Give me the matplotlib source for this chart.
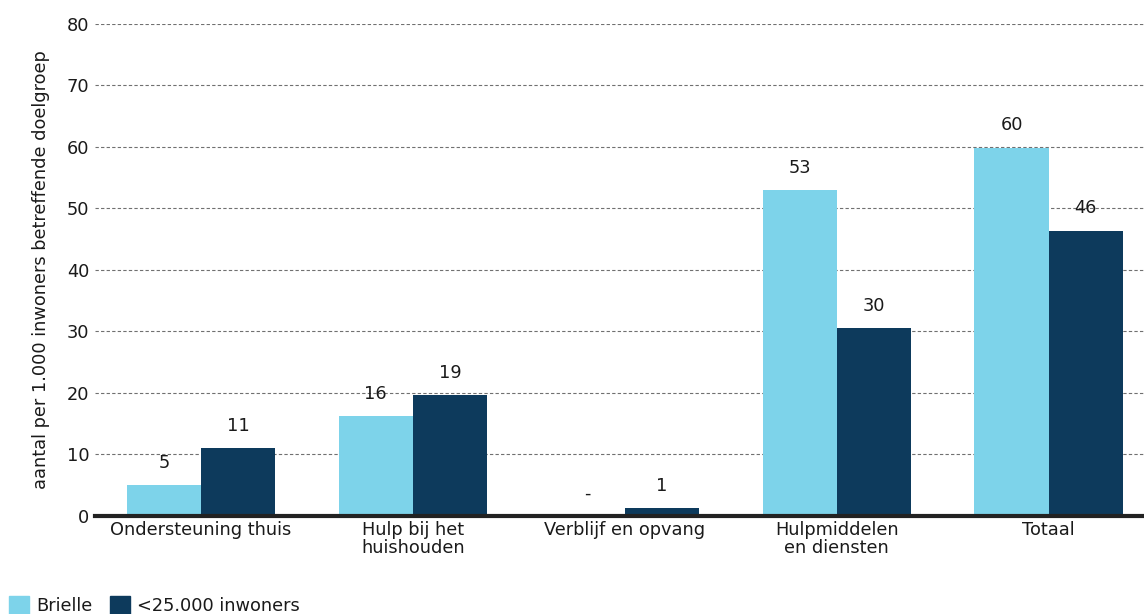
import matplotlib
matplotlib.use('Agg')
import matplotlib.pyplot as plt
import numpy as np
from matplotlib.patches import Patch

plt.rcParams['font.family'] = ['DejaVu Sans']

categories = ['Ondersteuning thuis', 'Hulp bij het\nhuishouden', 'Verblijf en opvang',
              'Hulpmiddelen\nen diensten', 'Totaal']
brielle = [5.0, 16.2, 0.0, 53.0, 59.9]
kleine_gemeenten = [11.0, 19.6, 1.2, 30.5, 46.4]
brielle_labels = ['5', '16', '-', '53', '60']
kleine_labels = ['11', '19', '1', '30', '46']
series_names = ['Brielle', '<25.000 inwoners']
yticks = [0, 10, 20, 30, 40, 50, 60, 70, 80]

licht = '#7dd3ea'
donker = '#0d3a5c'
tekst = '#1a1a1a'
fs = 12.8

fig = plt.figure(figsize=(11.44, 6.14), dpi=100)
ax = fig.add_axes([0.083, 0.16, 0.917, 0.801])

x = np.arange(len(categories))
w = 0.35
b1 = ax.bar(x - w / 2, brielle, w, color=licht, zorder=3)
b2 = ax.bar(x + w / 2, kleine_gemeenten, w, color=donker, zorder=3)

# waardelabels boven de staven ('-' = geen waarde)
for bars, labels in [(b1, brielle_labels), (b2, kleine_labels)]:
    for rect, lab in zip(bars, labels):
        ax.annotate(lab, (rect.get_x() + rect.get_width() / 2, rect.get_height()),
                    xytext=(0, 9.5), textcoords='offset points', ha='center', va='bottom',
                    fontsize=fs, color=tekst, zorder=4)

ax.set_xlim(-0.5, 4.45)
ax.set_ylim(0, 80)
ax.set_yticks(yticks)
ax.set_xticks(x)
ax.set_xticklabels(categories, fontsize=fs, color=tekst, linespacing=1.05)
ax.tick_params(axis='y', length=0, pad=4, labelsize=fs, labelcolor=tekst)
ax.tick_params(axis='x', length=0, pad=3.5)
ax.grid(axis='y', color='#707070', linestyle=(0, (3, 2)), linewidth=0.8, zorder=0)

for s in ['top', 'right', 'left']:
    ax.spines[s].set_visible(False)
ax.spines['bottom'].set_color('#222222')
ax.spines['bottom'].set_linewidth(3)
ax.spines['bottom'].set_zorder(5)

ax.set_ylabel('aantal per 1.000 inwoners betreffende doelgroep', fontsize=fs, color=tekst, labelpad=12)

handles = [Patch(color=licht), Patch(color=donker)]
fig.legend(handles, series_names, loc='lower left', bbox_to_anchor=(0.002, -0.014), ncol=2,
           frameon=False, fontsize=fs, handlelength=1.1, handleheight=1.2,
           handletextpad=0.4, columnspacing=1.0, borderaxespad=0.0, labelcolor=tekst)

fig.savefig('out.png', dpi=100)
